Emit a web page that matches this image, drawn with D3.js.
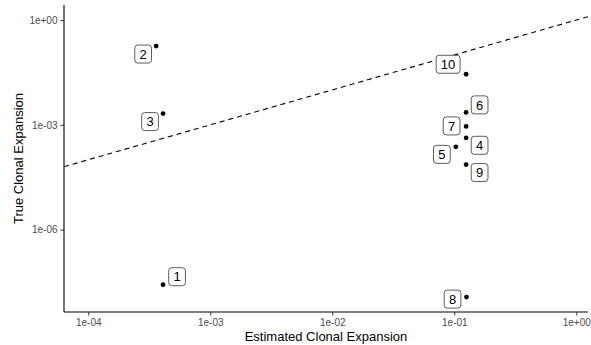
<!DOCTYPE html>
<html>
<head>
<meta charset="utf-8">
<script src="https://cdn.jsdelivr.net/npm/d3@7"></script>
<style>
  body { margin: 0; background: #fff; }
  text { font-family: "Liberation Sans", Arial, sans-serif; }
</style>
</head>
<body>
<div id="chart"></div>
<script>
// clone ids and their estimated / true clonal expansion
var clones = ["1", "2", "3", "4", "5", "6", "7", "8", "9", "10"];
var estimated = [4.1e-4, 3.6e-4, 4.1e-4, 0.125, 0.103, 0.125, 0.125, 0.126, 0.125, 0.125];
var trueExp = [2.65e-8, 0.18, 2.1e-3, 4.25e-4, 2.34e-4, 2.27e-3, 9.0e-4, 1.17e-8, 7.3e-5, 0.028];
var xTicks = [1e-4, 1e-3, 1e-2, 1e-1, 1e0];
var xTickLabels = ["1e-04", "1e-03", "1e-02", "1e-01", "1e+00"];
var yTicks = [1e-6, 1e-3, 1e0];
var yTickLabels = ["1e-06", "1e-03", "1e+00"];

// where ggrepel pushed each label, relative to its point (px)
var repel = [[14, -8], [-13, 8], [-13, 8], [13.5, 7.5], [-14, 7.5],
             [13.5, -7.5], [-14.5, -0.5], [-14, 2], [13.5, 8], [-18, -10]];

var width = 591, height = 345;
var margin = {top: 5, right: 3, bottom: 33, left: 64};

var svg = d3.select("#chart").append("svg")
    .attr("width", width).attr("height", height);

var x = d3.scaleLog()
    .domain([Math.pow(10, -4.199), Math.pow(10, 0.096)])
    .range([margin.left, width - margin.right]);
var y = d3.scaleLog()
    .domain([Math.pow(10, -8.358), Math.pow(10, 0.43)])
    .range([height - margin.bottom, margin.top]);

var data = clones.map(function (c, i) {
    return {id: c, ex: estimated[i], tr: trueExp[i], off: repel[i]};
});

// y = x reference line
var xd = x.domain();
var plotArea = svg.append("g");
svg.append("clipPath").attr("id", "clip").append("rect")
    .attr("x", margin.left).attr("y", margin.top)
    .attr("width", width - margin.left - margin.right)
    .attr("height", height - margin.top - margin.bottom);
plotArea.append("line")
    .attr("clip-path", "url(#clip)")
    .attr("x1", x(xd[0])).attr("y1", y(xd[0]))
    .attr("x2", x(xd[1])).attr("y2", y(xd[1]))
    .attr("stroke", "#000").attr("stroke-width", 1.1)
    .attr("stroke-dasharray", "5,4");

// axes
var xAxis = d3.axisBottom(x).tickValues(xTicks)
    .tickFormat(function (d, i) { return xTickLabels[i]; })
    .tickSize(3.5).tickPadding(3);
var yAxis = d3.axisLeft(y).tickValues(yTicks)
    .tickFormat(function (d, i) { return yTickLabels[i]; })
    .tickSize(3.5).tickPadding(3);

var gx = svg.append("g")
    .attr("transform", "translate(0," + (height - margin.bottom) + ")")
    .call(xAxis);
var gy = svg.append("g")
    .attr("transform", "translate(" + margin.left + ",0)")
    .call(yAxis);
[gx, gy].forEach(function (g) {
    g.select(".domain").attr("stroke", "#000").attr("stroke-width", 1.1);
    g.selectAll(".tick line").attr("stroke", "#333").attr("stroke-width", 1);
    g.selectAll(".tick text").attr("fill", "#4d4d4d")
        .style("font-size", "10px").style("font-family", "Liberation Sans, Arial, sans-serif");
});
// ggplot axis lines stop at the panel edge
gx.select(".domain").attr("d", "M" + margin.left + ",0H" + (width - margin.right));
gy.select(".domain").attr("d", "M0," + margin.top + "V" + (height - margin.bottom));

// axis titles
svg.append("text")
    .attr("x", (margin.left + width - margin.right) / 2)
    .attr("y", 341)
    .attr("text-anchor", "middle")
    .style("font-size", "13px")
    .text("Estimated Clonal Expansion");
svg.append("text")
    .attr("transform", "translate(23," + ((margin.top + height - margin.bottom) / 2) + ") rotate(-90)")
    .attr("text-anchor", "middle")
    .style("font-size", "13px")
    .text("True Clonal Expansion");

// points
svg.selectAll("circle.pt")
    .data(data)
    .enter()
    .append("circle")
    .attr("class", "pt")
    .attr("cx", function (d) { return x(d.ex); })
    .attr("cy", function (d) { return y(d.tr); })
    .attr("r", 2.4)
    .attr("fill", "#000");

// labels
var labels = svg.selectAll("g.lab")
    .data(data)
    .enter()
    .append("g")
    .attr("class", "lab")
    .attr("transform", function (d) {
        return "translate(" + (x(d.ex) + d.off[0]) + "," + (y(d.tr) + d.off[1]) + ")";
    });
labels.append("text")
    .attr("text-anchor", "middle")
    .attr("dy", "0.36em")
    .style("font-size", "13px")
    .attr("fill", "#000")
    .text(function (d) { return d.id; });
labels.each(function () {
    var g = d3.select(this);
    var bb = g.select("text").node().getBBox();
    var w = bb.width + 9.5, h = 18;
    g.insert("rect", "text")
        .attr("x", -w / 2).attr("y", -h / 2)
        .attr("width", w).attr("height", h)
        .attr("rx", 3).attr("ry", 3)
        .attr("fill", "#fff")
        .attr("stroke", "#333").attr("stroke-width", 0.8);
});
</script>
</body>
</html>
